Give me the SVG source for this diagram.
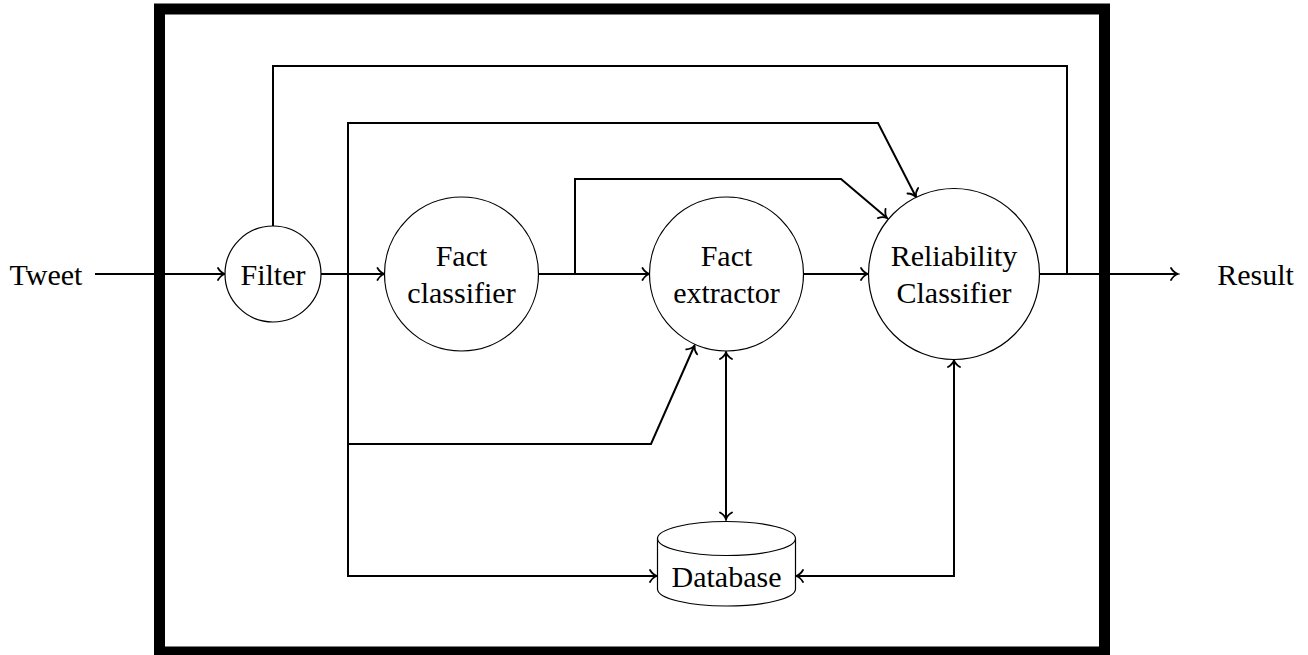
<svg xmlns="http://www.w3.org/2000/svg" width="1308" height="655" viewBox="0 0 1308 655">
  <style>
    .node { fill: #fff; stroke: #000; stroke-width: 1.2; }
    .lbl { font-family: "Liberation Serif", "Times New Roman", serif; font-size: 30px; fill: #000; text-anchor: middle; }
    .edge { fill: none; stroke: #000; stroke-width: 2; stroke-linejoin: miter; }
    .frame { fill: none; stroke: #000; stroke-width: 11; }
  </style>
  <defs>
    <marker id="to" viewBox="-9 -8 11 16" markerWidth="11" markerHeight="16" refX="0" refY="0" orient="auto-start-reverse" markerUnits="userSpaceOnUse">
      <path d="M-7,-6 C-5,-2.5 -2,-0.6 0,0 C-2,0.6 -5,2.5 -7,6" fill="none" stroke="#000" stroke-width="1.8" stroke-linecap="round"/>
    </marker>
  </defs>

  <rect class="frame" x="159.5" y="9" width="945" height="643"/>

  <g id="connectors">
    <path class="edge" d="M95,274 H225" marker-end="url(#to)"/>
    <path class="edge" d="M321,274 H384.5" marker-end="url(#to)"/>
    <path class="edge" d="M538,274 H649.5" marker-end="url(#to)"/>
    <path class="edge" d="M804,274 H868" marker-end="url(#to)"/>
    <path class="edge" d="M1039,274 H1178" marker-end="url(#to)"/>
    <path class="edge" d="M273,226 V66 H1067 V274"/>
    <path class="edge" d="M348,274 V123 H878 L916,197" marker-end="url(#to)"/>
    <path class="edge" d="M575,274 V179 H841 L887,218" marker-end="url(#to)"/>
    <path class="edge" d="M348,274 V444 H651 L694.5,345.5" marker-end="url(#to)"/>
    <path class="edge" d="M348,444 V576 H657" marker-end="url(#to)"/>
    <path class="edge" d="M726,352 V519.5" marker-start="url(#to)" marker-end="url(#to)"/>
    <path class="edge" d="M954,360 V576 H796" marker-start="url(#to)" marker-end="url(#to)"/>
  </g>

  <g id="tweet">
    <text class="lbl" x="46" y="285">Tweet</text>
  </g>
  <g id="filter">
    <circle class="node" cx="273" cy="274" r="48"/>
    <text class="lbl" x="273" y="285">Filter</text>
  </g>
  <g id="fact-classifier">
    <circle class="node" cx="461.5" cy="274" r="77"/>
    <text class="lbl" x="461.5" y="266">Fact</text>
    <text class="lbl" x="461.5" y="302.5">classifier</text>
  </g>
  <g id="fact-extractor">
    <circle class="node" cx="726.5" cy="274" r="77"/>
    <text class="lbl" x="726.5" y="266">Fact</text>
    <text class="lbl" x="726.5" y="302.5">extractor</text>
  </g>
  <g id="reliability-classifier">
    <circle class="node" cx="954" cy="274" r="85.5"/>
    <text class="lbl" x="954" y="266">Reliability</text>
    <text class="lbl" x="954" y="302.5">Classifier</text>
  </g>
  <g id="database">
    <path class="node" d="M657.5,538.5 V589 A69,17 0 0 0 795.5,589 V538.5"/>
    <ellipse class="node" cx="726.5" cy="538.5" rx="69" ry="17"/>
    <text class="lbl" x="726.5" y="587">Database</text>
  </g>
  <g id="result">
    <text class="lbl" x="1255.5" y="285">Result</text>
  </g>
</svg>
